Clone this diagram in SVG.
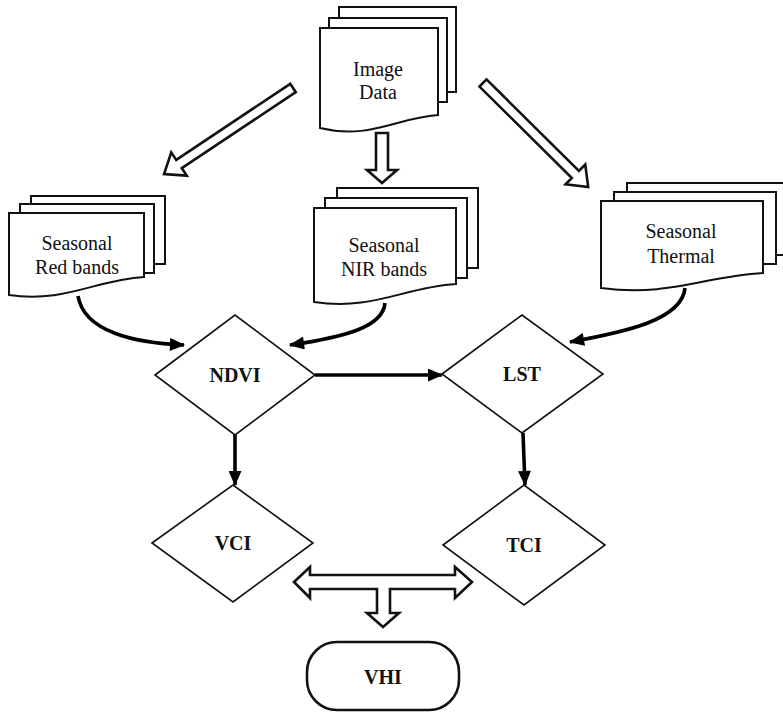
<svg xmlns="http://www.w3.org/2000/svg" width="783" height="714" viewBox="0 0 783 714">
<defs>
<style>
.pg{fill:#fff;stroke:#111;stroke-width:2}
.dia{fill:#fff;stroke:#111;stroke-width:1.6}
.blk{fill:#fff;stroke:#111;stroke-width:2.6;stroke-linejoin:miter}
.con{fill:none;stroke:#000;stroke-width:3.6}
.t{font-family:"Liberation Serif","Times New Roman",serif;font-size:20px;fill:#111;text-anchor:middle}
.b{font-weight:bold}
</style>
<marker id="ah" viewBox="0 0 14 12" refX="13" refY="6" markerWidth="16" markerHeight="13" markerUnits="userSpaceOnUse" orient="auto">
<path d="M0,0 L14,6 L0,12 Z" fill="#000"/>
</marker>
</defs>
<rect width="783" height="714" fill="#fff"/>

<g id="image-data">
<rect class="pg" x="339" y="7" width="117" height="85"/>
<rect class="pg" x="329" y="18" width="118" height="84"/>
<path class="pg" d="M320,28 H438 V115 C395,118 370,140 320,128 Z"/>
<text class="t" x="378" y="76">Image</text>
<text class="t" x="378" y="99">Data</text>
</g>

<g id="red-bands">
<rect class="pg" x="31" y="196" width="134" height="68"/>
<rect class="pg" x="20" y="204" width="134" height="69"/>
<path class="pg" d="M9,213 H144 V277 C95,280 65,303 9,295 Z"/>
<text class="t" x="77" y="250">Seasonal</text>
<text class="t" x="77" y="274">Red bands</text>
</g>

<g id="nir-bands">
<rect class="pg" x="337" y="188" width="141" height="80"/>
<rect class="pg" x="325" y="198" width="142" height="80"/>
<path class="pg" d="M314,208 H456 V284 C404,287 373,311 314,302 Z"/>
<text class="t" x="384" y="252">Seasonal</text>
<text class="t" x="384" y="276">NIR bands</text>
</g>

<g id="thermal">
<rect class="pg" x="627" y="183" width="163" height="72"/>
<rect class="pg" x="614" y="192" width="162" height="72"/>
<path class="pg" d="M601,201 H763 V273 C705,276 670,297 601,288 Z"/>
<text class="t" x="681" y="238">Seasonal</text>
<text class="t" x="681" y="263">Thermal</text>
</g>

<g id="ndvi">
<path class="dia" d="M155,375 L235,315 L315,375 L235,435 Z"/>
<text class="t b" x="235" y="382">NDVI</text>
</g>

<g id="lst">
<path class="dia" d="M442,374 L522,315 L603,374 L522,433 Z"/>
<text class="t b" x="522" y="381">LST</text>
</g>

<g id="vci">
<path class="dia" d="M152,543 L233,485 L313,543 L233,602 Z"/>
<text class="t b" x="233" y="550">VCI</text>
</g>

<g id="tci">
<path class="dia" d="M443,545 L524,485 L605,545 L524,605 Z"/>
<text class="t b" x="524" y="552">TCI</text>
</g>

<g id="vhi">
<rect x="307" y="642" width="152" height="68" rx="30" ry="30" fill="#fff" stroke="#111" stroke-width="2.6"/>
<text class="t b" x="383" y="684">VHI</text>
</g>

<g id="connectors">
<path class="blk" transform="translate(293,88) rotate(146.3)" d="M0,-5 L137,-5 L137,-14 L155,0 L137,14 L137,5 L0,5 Z"/>
<path class="blk" d="M376,133 H388 V170 H397 L382,183 L367,170 H376 Z"/>
<path class="blk" transform="translate(483,83) rotate(44.7)" d="M0,-5 L130,-5 L130,-14 L148,0 L130,14 L130,5 L0,5 Z"/>
<path class="blk" d="M294,582 L310,567 L310,575 L455,575 L455,567 L472,582 L455,598 L455,589 L390,589 L390,613 L399,613 L383,627 L367,613 L377,613 L377,589 L310,589 L310,598 Z"/>

<path class="con" marker-end="url(#ah)" d="M78,296 C84,332 135,343 184,345"/>
<path class="con" marker-end="url(#ah)" d="M385,303 C383,327 345,337 290,345"/>
<path class="con" marker-end="url(#ah)" d="M685,288 C682,320 625,332 570,342"/>
<path class="con" marker-end="url(#ah)" d="M315,375 H442"/>
<path class="con" marker-end="url(#ah)" d="M235,435 V485"/>
<path class="con" marker-end="url(#ah)" d="M523,433 L525,485"/>
</g>
</svg>
